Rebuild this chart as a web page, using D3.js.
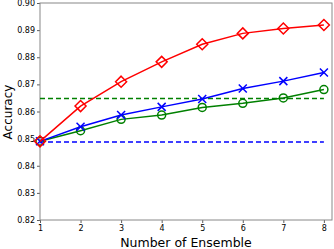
<!DOCTYPE html>
<html><head><meta charset="utf-8">
<script src="https://cdn.jsdelivr.net/npm/d3@7/dist/d3.min.js"></script>
<style>body{margin:0;background:#fff}svg{display:block}</style>
</head><body>
<script>
const ensembles = [1,2,3,4,5,6,7,8];
const redSeries = [0.849,0.862,0.871,0.8783,0.8848,0.8888,0.8906,0.8919];
const blueSeries = [0.849,0.8544,0.8587,0.8617,0.8646,0.8685,0.8712,0.8744];
const greenSeries = [0.849,0.8529,0.8571,0.8587,0.8615,0.863,0.865,0.8681];
const greenBaseline = 0.8648;
const blueBaseline = 0.8488;
const yTicks = [0.82,0.83,0.84,0.85,0.86,0.87,0.88,0.89,0.90];
const xTicks = [1,2,3,4,5,6,7,8];

const W=334,H=249;
const svg=d3.select("body").append("svg").attr("width",W).attr("height",H);
const x=d3.scaleLinear().domain([1,8.2]).range([40,332]);
const y=d3.scaleLinear().domain([0.82,0.90]).range([220,3]);
const font="DejaVu Sans";

const gx=svg.append("g").attr("transform","translate(0,220)")
  .call(d3.axisBottom(x).tickValues(xTicks).tickFormat(d3.format("d")).tickSize(3).tickPadding(2));
const gy=svg.append("g").attr("transform","translate(40,0)")
  .call(d3.axisLeft(y).tickValues(yTicks).tickFormat(d3.format(".2f")).tickSize(3).tickPadding(2));
[gx,gy].forEach(g=>{
  g.select(".domain").remove();
  g.selectAll("line").attr("stroke","#333").attr("stroke-width",0.8);
  g.selectAll("text").attr("font-family",font).attr("font-size",8).attr("fill","#000");
});
svg.append("rect").attr("x",40).attr("y",3).attr("width",292).attr("height",217)
  .attr("fill","none").attr("stroke","#888").attr("stroke-width",1);

const line=d3.line().x((d,i)=>x(ensembles[i])).y(d=>y(d));
[[greenBaseline,"#008000"],[blueBaseline,"#0000ff"]].forEach(([v,c])=>{
  svg.append("line").attr("x1",x(1)).attr("x2",x(8)).attr("y1",y(v)).attr("y2",y(v))
    .attr("stroke",c).attr("stroke-width",1.5).attr("stroke-dasharray","5,3");
});
const series=[[greenSeries,"#008000","circle"],[blueSeries,"#0000ff","x"],[redSeries,"#ff0000","diamond"]];
series.forEach(([data,c,m])=>{
  svg.append("path").datum(data).attr("d",line).attr("fill","none").attr("stroke",c).attr("stroke-width",1.5);
  const g=svg.append("g");
  data.forEach((d,i)=>{
    const cx=x(ensembles[i]),cy=y(d);
    if(m==="circle") g.append("circle").attr("cx",cx).attr("cy",cy).attr("r",4).attr("fill","none").attr("stroke",c).attr("stroke-width",1.5);
    else if(m==="x") g.append("path").attr("d",`M${cx-4},${cy-4}L${cx+4},${cy+4}M${cx-4},${cy+4}L${cx+4},${cy-4}`).attr("stroke",c).attr("stroke-width",1.5);
    else g.append("path").attr("d",`M${cx},${cy-5.5}L${cx+5.5},${cy}L${cx},${cy+5.5}L${cx-5.5},${cy}Z`).attr("fill","none").attr("stroke",c).attr("stroke-width",1.5);
  });
});
svg.append("text").attr("x",186).attr("y",247).attr("text-anchor","middle")
  .attr("font-family",font).attr("font-size",12.5).text("Number of Ensemble");
svg.append("text").attr("transform","translate(12,112) rotate(-90)").attr("text-anchor","middle")
  .attr("font-family",font).attr("font-size",12).text("Accuracy");
</script>
</body></html>
